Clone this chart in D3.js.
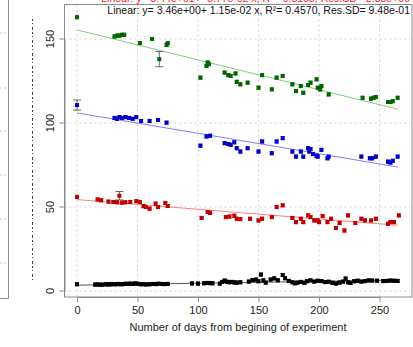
<!DOCTYPE html>
<html><head><meta charset="utf-8">
<script src="https://cdn.jsdelivr.net/npm/d3@7/dist/d3.min.js"></script>
<style>body{margin:0;background:#fff}svg{display:block}text{font-family:"Liberation Sans",Arial,sans-serif}</style>
</head><body>
<script>
// ---- data ----
const xTicks = [0, 50, 100, 150, 200, 250];
const yTicks = [0, 50, 100, 150];
const xTitle = "Number of days from begining of experiment";
const captionRed = "Linear: y= 5.44e+01+ -5.77e-02 x, R\u00b2= 0.8155, Res.SD= 2.38e+00";
const captionBlack = "Linear: y= 3.46e+00+ 1.15e-02 x, R\u00b2= 0.4570, Res.SD= 9.48e-01";

const greenDays = [0,31,33,35,37,39,52,62,68,74,75,102,107,108,109,122,125,127,131,132,135,141,150,153,161,165,170,178,181,185,187,191,193,198,199,201,202,208,236,243,245,247,257,259,261,265];
const greenVals = [163,151.5,152,152,152.5,152.5,147.6,150,138,146.5,147.5,127,134,136,135,130,128.5,128,129.5,124.5,123,124,121,128.5,120,127,128,123,119,122,118,122.6,124,126,121,120,122,117,115,114.5,115,115.5,112.5,112.5,113,115];
const greenErr = {68: 4.5};

const blueDays = [0,31,33,35,37,40,43,46,49,53,60,67,74,102,107,110,122,125,127,130,132,135,141,150,153,161,165,170,178,181,185,187,191,192,193,195,198,199,202,207,208,235,242,244,247,257,259,261,265];
const blueVals = [110.7,103,102.5,103.5,103,103.5,103,102.5,103.5,101.2,101.2,101.8,100.2,86.5,92,92.4,88,87.5,87,88.5,85,83,85,83,89,82,89,91,83,80,83,80,85,83,84.5,81.5,80.5,80,84,79,80,80,79,79,80,77,76.5,77.5,80];
const blueErr = {0: 3};

const redDays = [0,17,20,26,30,33,35,37,40,44,49,52,55,57,60,65,67,73,75,103,108,110,123,126,130,132,135,143,150,153,161,165,170,178,181,185,187,191,193,196,199,200,203,207,210,214,217,221,224,230,235,238,243,247,257,259,262,266];
const redVals = [56,54.5,54,53.2,53,52.8,56.7,52.6,52.8,53,53.5,53,50.5,50,49,52,50,52.4,50.6,43.5,47,46.5,44,44.3,44.8,43,42.8,43,42,43,44,50,51,43.5,41,43,41,45,44,42,42,41,44.6,41,43,37.5,40.5,36,45,40.5,43,42,42,43,40,41,41,45];
const redErr = {35: 2.5};

const blackDays = [0,15,17,19,21,24,26,28,30,32,34,36,38,40,42,44,46,48,50,53,55,57,60,63,65,67,70,72,75,95,100,105,108,110,112,118,120,122,124,126,128,130,132,135,142,145,148,150,152,154,156,160,163,166,170,172,175,178,180,182,185,188,190,193,196,199,202,205,208,211,214,217,220,222,224,226,229,232,235,238,241,244,248,253,256,259,262,265];
const blackVals = [4,3.8,3.9,3.7,3.8,4,3.9,4,4.1,4,4.2,4,4.1,4.3,4.2,4.4,4.2,4.5,4.3,4,4.1,3.9,4,4.2,4.1,4.3,4.2,4.1,4.2,4.5,4.4,4.6,4.8,4.7,4.6,4.4,5.4,6.2,5.5,5.2,5.4,5.1,5,5.2,5.6,6.5,6.8,5.8,9.8,6.3,5,6.8,7.5,6.4,9.5,7.6,6,5.2,4.6,5,5.4,4.9,5.8,6.3,5.6,6.1,5.9,5.3,5.5,4.9,4.4,5,5.6,7.4,5.2,4.8,5.8,6.1,5.6,5.9,6.3,6.2,6.1,5.9,6,6.2,6.1,6];
const blackErr = {};

// regression lines: [intercept, slope]
const fitGreen = [155.4, -0.178];
const fitBlue = [106, -0.1215];
const fitRed = [54.4, -0.0577];
const fitBlack = [3.46, 0.0115];
const fitRange = [0, 265];
const smallErr = 0.9;

const series = [
  {days: blackDays, vals: blackVals, err: blackErr, fit: fitBlack, col: "#000000", line: "#444444"},
  {days: redDays, vals: redVals, err: redErr, fit: fitRed, col: "#c00000", line: "#ff7070"},
  {days: blueDays, vals: blueVals, err: blueErr, fit: fitBlue, col: "#0000c8", line: "#7070ff"},
  {days: greenDays, vals: greenVals, err: greenErr, fit: fitGreen, col: "#006400", line: "#70c870"}
];

// ---- drawing ----
const W = 413, H = 347;
const svg = d3.select("body").append("svg").attr("width", W).attr("height", H);
const box = {l: 64.5, r: 412, t: 4.5, b: 297};
const x = d3.scaleLinear().domain([0, 250]).range([77, 379.5]);
const y = d3.scaleLinear().domain([0, 150]).range([291, 39]);

// left neighbouring panel remnants
const leftGrid = [33, 88, 131, 175, 219, 263];
svg.selectAll("line.lg").data(leftGrid).enter().append("line")
  .attr("x1", 0).attr("x2", 6).attr("y1", d => d).attr("y2", d => d)
  .attr("stroke", "#cfcfcf").attr("stroke-dasharray", "2,2");
svg.append("path").attr("d", "M8.5,0V298.5H0").attr("fill", "none").attr("stroke", "#8a8a8a");
svg.append("line").attr("x1", 32.5).attr("x2", 32.5).attr("y1", 19).attr("y2", 280)
  .attr("stroke", "#444").attr("stroke-width", 1).attr("stroke-dasharray", "2,2,1,3,3,2");

// grid
svg.selectAll("line.gx").data(xTicks).enter().append("line")
  .attr("x1", d => x(d)).attr("x2", d => x(d)).attr("y1", box.t).attr("y2", box.b)
  .attr("stroke", "#d4d4d4").attr("stroke-dasharray", "2,3");
svg.selectAll("line.gy").data(yTicks).enter().append("line")
  .attr("y1", d => y(d)).attr("y2", d => y(d)).attr("x1", box.l).attr("x2", box.r)
  .attr("stroke", "#d4d4d4").attr("stroke-dasharray", "2,3");

// axes
const ax = svg.append("g").attr("transform", `translate(0,${box.b})`)
  .call(d3.axisBottom(x).tickValues(xTicks).tickSize(5).tickSizeOuter(0).tickPadding(4));
const ay = svg.append("g").attr("transform", `translate(${box.l},0)`)
  .call(d3.axisLeft(y).tickValues(yTicks).tickSize(5).tickSizeOuter(0).tickPadding(4));
[ax, ay].forEach(g => {
  g.select(".domain").attr("stroke", "#8a8a8a");
  g.selectAll(".tick line").attr("stroke", "#8a8a8a");
  g.selectAll("text").attr("font-size", 11).attr("fill", "#222").attr("font-family", "Liberation Sans, Arial, sans-serif");
});
ay.selectAll(".tick").attr("transform", null);
ay.selectAll(".tick line").attr("y1", d => y(d)).attr("y2", d => y(d)).attr("x2", -5);
ay.selectAll(".tick text")
  .attr("transform", d => `translate(-11,${y(d)}) rotate(-90)`)
  .attr("x", 0).attr("y", 0).attr("dy", "0").attr("text-anchor", "middle");

// box
svg.append("rect").attr("x", box.l).attr("y", box.t).attr("width", box.r - box.l).attr("height", box.b - box.t)
  .attr("fill", "none").attr("stroke", "#8a8a8a");

// regression lines
series.forEach(s => {
  svg.append("line")
    .attr("x1", x(fitRange[0])).attr("y1", y(s.fit[0] + s.fit[1] * fitRange[0]))
    .attr("x2", x(fitRange[1])).attr("y2", y(s.fit[0] + s.fit[1] * fitRange[1]))
    .attr("stroke", s.line).attr("stroke-width", 0.9);
});

// points with error bars
series.forEach(s => {
  const pts = s.days.map((d, i) => ({d, v: s.vals[i], e: s.err[d] !== undefined ? s.err[d] : smallErr}));
  const g = svg.append("g");
  pts.forEach(p => {
    const cx = x(p.d), y1 = y(p.v + p.e), y2 = y(p.v - p.e);
    const cw = p.e > 2 ? 4 : 2;
    const ecol = p.e > 2 ? "#444" : s.col;
    g.append("path").attr("d", `M${cx},${y1}V${y2}M${cx-cw},${y1}H${cx+cw}M${cx-cw},${y2}H${cx+cw}`)
      .attr("stroke", ecol).attr("stroke-width", 0.8).attr("fill", "none");
    g.append("rect").attr("x", cx - 2).attr("y", y(p.v) - 2).attr("width", 4).attr("height", 4)
      .attr("fill", s.col);
  });
});

// captions
svg.append("text").attr("x", 410).attr("y", 2).attr("text-anchor", "end")
  .attr("font-size", 10.5).attr("fill", "#ff2020").text(captionRed);
svg.append("text").attr("x", 410).attr("y", 13.5).attr("text-anchor", "end")
  .attr("font-size", 10.5).attr("fill", "#111").text(captionBlack);

// x title
svg.append("text").attr("x", 238).attr("y", 331).attr("text-anchor", "middle")
  .attr("font-size", 11).attr("fill", "#222").text(xTitle);
</script>
</body></html>
